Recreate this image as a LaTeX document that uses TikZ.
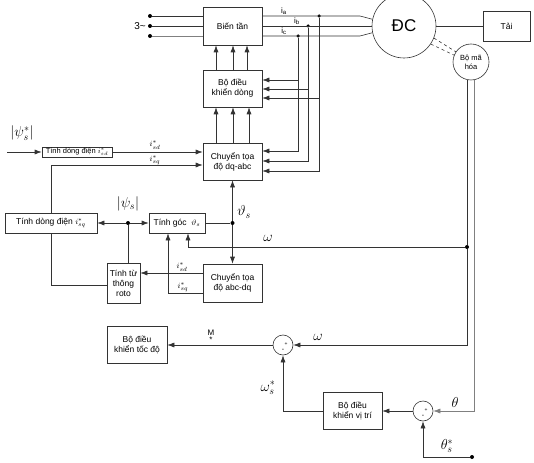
\documentclass[tikz,border=0pt]{standalone}
\usepackage{fontspec}
\setmainfont{Liberation Sans}
\usetikzlibrary{arrows.meta,positioning,calc}
\tikzset{
  blk/.style={rectangle, draw=black!80, line width=0.6pt, fill=white, align=center,
              font=\fontsize{8.5}{10}\selectfont, inner sep=1pt},
  sumnode/.style={circle, draw=black!80, line width=0.6pt, minimum size=20pt, inner sep=0pt},
  arr/.style={-{Latex[length=7pt,width=5pt]}, line width=0.6pt, draw=black!80},
  ln/.style={line width=0.6pt, draw=black!80},
  jdot/.style={circle, fill=black, inner sep=0pt, minimum size=4pt},
  lbl/.style={inner sep=0pt, font=\fontsize{8}{9}\selectfont},
}
\begin{document}
\begin{tikzpicture}[x=1pt, y=-1pt]
  \useasboundingbox (0,0) rectangle (534,462);
  \node[blk, minimum width=59pt, minimum height=38pt] (bt) at (232.5,26) {Biến tần};
  \node[blk, minimum width=59pt, minimum height=37pt] (dk) at (232.5,88.5) {Bộ điều\\khiển dòng};
  \node[blk, minimum width=59pt, minimum height=37pt] (dqabc) at (232.5,161.5) {Chuyển tọa\\độ dq-abc};
  \node[blk, minimum width=59pt, minimum height=38pt] (abcdq) at (232.5,283) {Chuyển tọa\\độ abc-dq};
  \node[blk, minimum width=56pt, minimum height=20pt] (tg) at (177,223) {Tính góc \ $\vartheta_s$};
  \node[blk, minimum width=92pt, minimum height=20pt] (tsq) at (51,223) {Tính dòng điện $i^*_{sq}$};
  \node[blk, minimum width=70pt, minimum height=10pt, inner sep=0.5pt, font=\fontsize{7.5}{8}\selectfont] (tsd) at (77,152) {Tính dòng điện $i^*_{sd}$};
  \node[blk, minimum width=33pt, minimum height=40pt] (ttt) at (123.5,283) {Tính từ\\thông\\roto};
  \node[circle, draw=black!80, line width=0.6pt, minimum size=64pt, font=\fontsize{17}{17}\selectfont] (dc) at (404,26) {ĐC};
  \node[blk, minimum width=47pt, minimum height=30pt] (tai) at (506.5,26) {Tải};
  \node[circle, draw=black!80, line width=0.6pt, fill=white, minimum size=36pt, inner sep=0pt, align=center,
        font=\fontsize{7.5}{9}\selectfont] (bmh) at (471,62) {Bộ mã\\hóa};
  \node[blk, minimum width=60pt, minimum height=37pt] (tdk) at (137,345) {Bộ điều\\khiển tốc độ};
  \node[blk, minimum width=59pt, minimum height=37pt] (vt) at (352.5,411) {Bộ điều\\khiển vị trí};
  \node[sumnode] (s1) at (283,345) {};
  \node[sumnode] (s2) at (423,411) {};
  \foreach \s in {s1,s2} {
    \node[lbl, font=\tiny] at ([xshift=3pt,yshift=1pt]\s.center) {+};
    \node[lbl, font=\scriptsize] at ([yshift=-5pt]\s.center) {-};
  }

  % nguon va bien tan
  \node[lbl, font=\fontsize{10}{10}\selectfont] (src) at (140,26) {3\textasciitilde};
  \foreach \y/\n in {16/a,26/b,36/c} \node[jdot] (in\n) at (150,\y) {};
  \draw[ln] (ina) -- (ina -| bt.west);
  \draw[ln] (inb) -- (inb -| bt.west);
  \draw[ln, draw=gray] (inc) -- (inc -| bt.west);
  \node[jdot, minimum size=3.5pt] (ia) at (319,16) {};
  \node[jdot, minimum size=3.5pt] (ib) at (308,26) {};
  \node[jdot, minimum size=3.5pt] (ic) at (298,36) {};
  \draw[ln] (bt.east |- ia) -- (360,16) -- (dc.168);
  \draw[ln] (bt.east |- ib) -- (dc.west);
  \draw[ln] (bt.east |- ic) -- (360,36) -- (dc.192);
  \node[lbl] at (284,11) {i\textsubscript{a}};
  \node[lbl] at (297,21) {i\textsubscript{b}};
  \node[lbl] at (284,31) {i\textsubscript{c}};
  \draw[ln] (dc.east) -- (tai.west);
  \draw[ln, dashed] (dc.-22) -- (bmh.146);
  \draw[ln, dashed] (dc.-34) -- (bmh.158);

  % phan hoi dong
  \draw[arr] (ic) |- (dqabc.east |- 0,151);
  \draw[arr] (ib) |- (dqabc.east |- 0,161);
  \draw[arr] (ia) |- (dqabc.east |- 0,171);
  \draw[arr] (ic |- 0,80) -- (dk.east |- 0,80);
  \draw[arr] (ib |- 0,89) -- (dk.east |- 0,89);
  \draw[arr] (ia |- 0,98) -- (dk.east |- 0,98);
  \foreach \x in {216,233,247} \draw[arr] (dk.north -| \x,0) -- (bt.south -| \x,0);
  \foreach \x in {216,233,249} \draw[arr] (dqabc.north -| \x,0) -- (dk.south -| \x,0);

  % tu thong va goc
  \coordinate (psiin) at (7,152);
  \draw[arr] (psiin) -- (tsd.west);
  \node[lbl] at (22,133) {\Large$\left|\psi^*_s\right|$};
  \draw[arr] (tsd.east) -- (tsd.east -| dqabc.west);
  \draw[arr] (tsq.north) |- ([yshift=-3.5pt]dqabc.west);
  \node[lbl] at (155,145) {$i^*_{sd}$};
  \node[lbl] at (155,160) {$i^*_{sq}$};
  \draw[ln] (tsq.south) |- ([yshift=-2pt]ttt.west);
  \node[jdot] (p) at (128,223) {};
  \draw[ln] (ttt.north -| p) -- (p);
  \draw[arr] (p) -- (tsq.east);
  \draw[arr] (p) -- (tg.west);
  \node[lbl] at (128,204) {\Large$\left|\psi_s\right|$};
  \node[jdot] (th) at (232.5,223) {};
  \draw[ln] (tg.east) -- (th);
  \draw[arr] (th) -- (dqabc.south);
  \draw[arr] (th) -- (abcdq.north);
  \node[lbl] at (244,212) {\Large$\vartheta_s$};
  \draw[arr] ([yshift=10pt]abcdq.west) -- ([yshift=10pt]ttt.east);
  \draw[arr] ([yshift=-10pt]abcdq.west) -| ([xshift=-9pt]tg.south);
  \node[lbl] at (182,267) {$i^*_{sd}$};
  \node[lbl] at (183,287) {$i^*_{sq}$};

  % toc do va vi tri
  \node[jdot] (w) at (467,247) {};
  \draw[ln] ([xshift=-4pt]bmh.south) -- (w);
  \draw[arr] (w) -| ([xshift=11pt]tg.south);
  \node[lbl] at (268,238) {\Large$\omega$};
  \draw[arr] (w) |- (s1.east);
  \node[lbl] at (318,337) {\Large$\omega$};
  \draw[arr, draw=gray] ([xshift=3pt]bmh.south) |- (s2.east);
  \node[lbl] at (455,402) {\Large$\theta$};
  \draw[arr] (s1.west) -- (tdk.east);
  \node[lbl] at (211,336) {\shortstack{M\\[-1pt]*}};
  \draw[arr] (vt.west) -| (s1.south);
  \node[lbl] at (268,388) {\Large$\omega^*_s$};
  \draw[arr] (s2.west) -- (vt.east);
  \node[jdot] (thin) at (472,457) {};
  \draw[arr] (thin) -| (s2.south);
  \node[lbl] at (447,446) {\Large$\theta^*_s$};
\end{tikzpicture}
\end{document}
